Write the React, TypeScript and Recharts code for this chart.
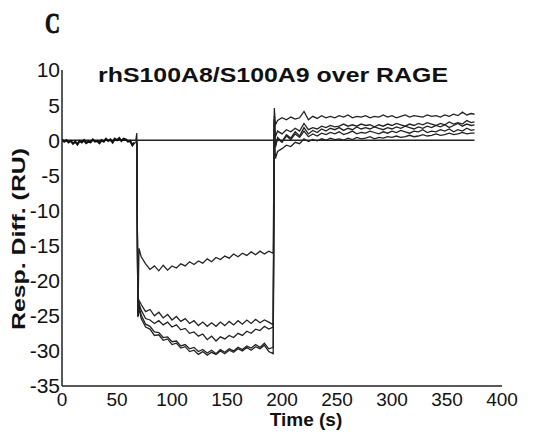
import { LineChart, Line, XAxis, YAxis, ReferenceLine } from "recharts";

// baseline before injection (all cycles overlap here)
const baseTime = [0, 2, 4, 6, 8, 10, 12, 14, 16, 18, 20, 22, 24, 26, 28, 30, 32, 34, 36, 38, 40, 42, 44, 46, 48, 50, 52, 54, 56, 58, 60, 62, 64, 66];
const baseResp = [0.1, -0.2, 0.0, -0.3, -0.1, -0.5, -0.2, -0.6, -0.1, -0.3, 0.0, -0.4, -0.2, -0.3, 0.1, -0.2, -0.1, -0.4, 0.0, -0.2, 0.2, -0.1, 0.1, -0.3, 0.2, 0.0, 0.3, -0.1, 0.2, 0.1, -0.2, -0.1, -0.7, -0.3];

// injection start ~69 s, end ~193 s, dissociation to 375 s
const runTime = [
  67, 68, 69, 70,
  72, 76, 80, 84, 88, 92, 96, 100, 104, 108, 112, 116, 120, 124, 128, 132, 136, 140, 144, 148, 152, 156, 160, 164, 168, 172, 176, 180, 184, 188, 192,
  193,
  194, 196, 200, 204, 208, 212, 216, 220, 224, 228, 232, 236, 240, 244, 248, 252, 256, 260, 264, 268, 272, 276, 280, 284, 288, 292, 296, 300, 304, 308, 312, 316, 320, 324, 328, 332, 336, 340, 344, 348, 352, 356, 360, 364, 368, 372, 375,
];

const curveA = [
  -0.3, -0.4, -25.0, -15.4,
  -16.6, -17.6, -18.4, -17.9, -18.6, -17.8, -18.5, -17.9, -18.2, -17.6, -17.9, -17.3, -17.7, -17.2, -17.5, -16.9, -17.3, -16.7, -17.0, -16.5, -16.8, -16.2, -16.6, -16.1, -16.4, -15.9, -16.3, -15.8, -16.2, -15.8, -16.1,
  3.0,
  -0.8, 0.2, -0.3, 0.6, 0.1, 0.9, 0.4, 1.3, 0.5, 0.9, 0.6, 1.0, 0.8, 1.1, 0.9, 1.2, 0.8, 1.0, 1.3, 0.9, 1.1, 1.0, 1.3, 1.1, 0.9, 1.2, 1.0, 1.3, 1.1, 1.4, 1.2, 1.0, 1.3, 1.2, 1.5, 1.1, 1.3, 1.2, 1.5, 1.3, 1.6, 1.2, 1.5, 1.3, 1.7, 1.4, 1.5,
];

const curveB = [
  -0.2, 1.0, -25.0, -22.8,
  -23.4, -24.4, -24.1, -25.0, -24.5, -25.3, -24.8, -25.6, -25.1, -25.8, -25.4, -26.1, -25.7, -26.4, -25.9, -26.5, -26.0, -26.5, -25.9, -26.4, -25.8, -26.3, -25.7, -26.2, -25.6, -26.1, -25.5, -26.0, -25.6, -25.9, -26.3,
  4.6,
  2.2, 2.8, 3.2, 2.9, 3.3, 3.0, 3.2, 4.1, 2.9, 3.4, 3.1, 3.5, 3.2, 3.4, 3.2, 3.5, 3.3, 3.6, 3.2, 3.4, 3.3, 3.5, 3.2, 3.4, 3.3, 3.6, 3.3, 3.5, 3.2, 3.4, 3.6, 3.3, 3.5, 3.4, 3.3, 3.6, 3.4, 3.5, 3.3, 3.6, 3.4, 3.7, 3.5, 4.0, 3.6, 3.8, 3.7,
];

const curveC = [
  -0.3, -0.2, -25.0, -23.2,
  -24.2, -25.4, -25.6, -26.1, -25.7, -26.3, -25.9, -26.6, -26.3, -27.0, -26.8, -27.5, -27.3, -27.9, -27.6, -28.4, -27.9, -28.6, -28.0, -28.3, -27.8, -28.1, -27.5, -27.8, -27.2, -27.5, -26.9, -27.1, -26.5, -26.9, -26.6,
  3.5,
  0.5, 1.3, 0.9, 1.5, 1.2, 1.7, 1.3, 2.4, 1.5, 1.8, 1.6, 2.0, 1.8, 2.1, 1.9, 2.0, 2.3, 2.0, 2.2, 2.0, 2.3, 2.1, 2.2, 1.9, 2.2, 2.0, 2.3, 2.1, 2.4, 2.2, 2.0, 2.3, 2.1, 2.4, 2.2, 2.5, 2.3, 2.1, 2.4, 2.2, 2.6, 2.3, 2.5, 2.3, 2.8, 2.5, 2.6,
];

const curveD = [
  -0.4, -0.3, -25.2, -23.6,
  -24.9, -26.2, -26.5, -27.3, -27.4, -28.1, -28.0, -28.7, -28.6, -29.3, -29.1, -29.7, -29.5, -30.1, -29.8, -30.3, -29.9, -30.4, -29.8, -30.2, -29.7, -30.0, -29.5, -29.8, -29.3, -29.6, -29.1, -29.5, -28.9, -29.7, -29.5,
  3.0,
  -1.0, 0.4, -0.2, 0.8, 0.3, 1.2, 0.6, 1.8, 0.9, 1.4, 1.1, 1.6, 1.3, 1.7, 1.5, 1.8, 1.4, 1.7, 1.5, 1.9, 1.6, 1.8, 1.6, 1.9, 1.7, 1.5, 1.8, 1.6, 1.9, 1.7, 2.0, 1.8, 1.6, 1.9, 1.7, 2.0, 1.8, 2.1, 1.9, 2.2, 1.8, 2.1, 2.4, 2.0, 2.3, 2.1, 2.2,
];

const curveE = [
  -0.3, -0.4, -25.0, -24.0,
  -25.4, -26.6, -26.9, -27.8, -27.7, -28.5, -28.3, -29.1, -28.9, -29.6, -29.4, -30.1, -29.9, -30.5, -30.1, -30.6, -30.2, -30.5, -30.0, -30.4, -29.9, -30.2, -29.7, -30.0, -29.5, -29.9, -29.4, -29.7, -29.2, -30.1, -30.4,
  2.5,
  -2.6, -1.6, -1.2, -0.7, -0.9, -0.3, -0.5, 0.2, -0.2, 0.1, -0.1, 0.2, 0.0, 0.3, 0.1, 0.2, 0.0, 0.3, 0.1, 0.4, 0.2, 0.3, 0.5, 0.2, 0.4, 0.3, 0.5, 0.4, 0.6, 0.4, 0.5, 0.7, 0.5, 0.6, 0.8, 0.6, 0.7, 0.9, 0.7, 0.8, 1.0, 0.8, 0.9, 1.1, 0.9, 1.0, 1.0,
];

const xTicks = [0, 50, 100, 150, 200, 250, 300, 350, 400];
const yTicks = [10, 5, 0, -5, -10, -15, -20, -25, -30, -35];

const curves = [curveA, curveB, curveC, curveD, curveE];

function toPoints(times: number[], values: number[]) {
  return times.map((t, i) => ({ t, v: values[i] }));
}

const sans = "'Liberation Sans', Arial, sans-serif";

export default function App() {
  return (
    <div style={{ position: "absolute", left: 0, top: 0, width: 542, height: 435, background: "#fff" }}>
      <svg width={542} height={100} style={{ position: "absolute", left: 0, top: 0 }}>
        <text
          x={45}
          y={33}
          fontFamily="'Liberation Serif', serif"
          fontWeight="bold"
          fontSize={30}
          textLength={15}
          lengthAdjust="spacingAndGlyphs"
          fill="#111"
          stroke="#111"
          strokeWidth={0.9}
        >
          C
        </text>
        <text x={98} y={82} fontFamily={sans} fontWeight="bold" fontSize={20} textLength={350} lengthAdjust="spacingAndGlyphs" fill="#111">
          rhS100A8/S100A9 over RAGE
        </text>
      </svg>
      <LineChart width={542} height={435} margin={{ top: 70, right: 40, bottom: 0, left: 0 }}>
        <XAxis
          type="number"
          dataKey="t"
          domain={[0, 400]}
          ticks={xTicks}
          allowDataOverflow
          height={49}
          tickLine={false}
          tickSize={0}
          tickMargin={7}
          axisLine={{ stroke: "#222", strokeWidth: 1.5 }}
          tick={{ fill: "#111", fontSize: 19, fontFamily: sans }}
          label={() => (
            <text x={306} y={426} textAnchor="middle" fontFamily={sans} fontWeight="bold" fontSize={19} fill="#111">
              Time (s)
            </text>
          )}
        />
        <YAxis
          type="number"
          domain={[-35, 10]}
          ticks={yTicks}
          allowDataOverflow
          width={62}
          tickLine={false}
          tickSize={0}
          tickMargin={2}
          axisLine={{ stroke: "#222", strokeWidth: 1.5 }}
          tick={{ fill: "#111", fontSize: 21, fontFamily: sans }}
          label={() => (
            <text
              x={25}
              y={239}
              transform="rotate(-90, 25, 239)"
              textAnchor="middle"
              fontFamily={sans}
              fontWeight="bold"
              fontSize={19}
              textLength={182}
              lengthAdjust="spacingAndGlyphs"
              fill="#111"
            >
              Resp. Diff. (RU)
            </text>
          )}
        />
        <ReferenceLine
          segment={[{ x: 0, y: 0 }, { x: 375, y: 0 }]}
          stroke="#222"
          strokeWidth={1.5}
        />
        <Line
          data={toPoints(baseTime, baseResp)}
          dataKey="v"
          type="linear"
          stroke="#111"
          strokeWidth={2.2}
          dot={false}
          isAnimationActive={false}
        />
        {curves.map((c, i) => (
          <Line
            key={i}
            data={toPoints(runTime, c)}
            dataKey="v"
            type="linear"
            stroke="#222"
            strokeWidth={1.3}
            dot={false}
            isAnimationActive={false}
          />
        ))}
      </LineChart>
    </div>
  );
}
